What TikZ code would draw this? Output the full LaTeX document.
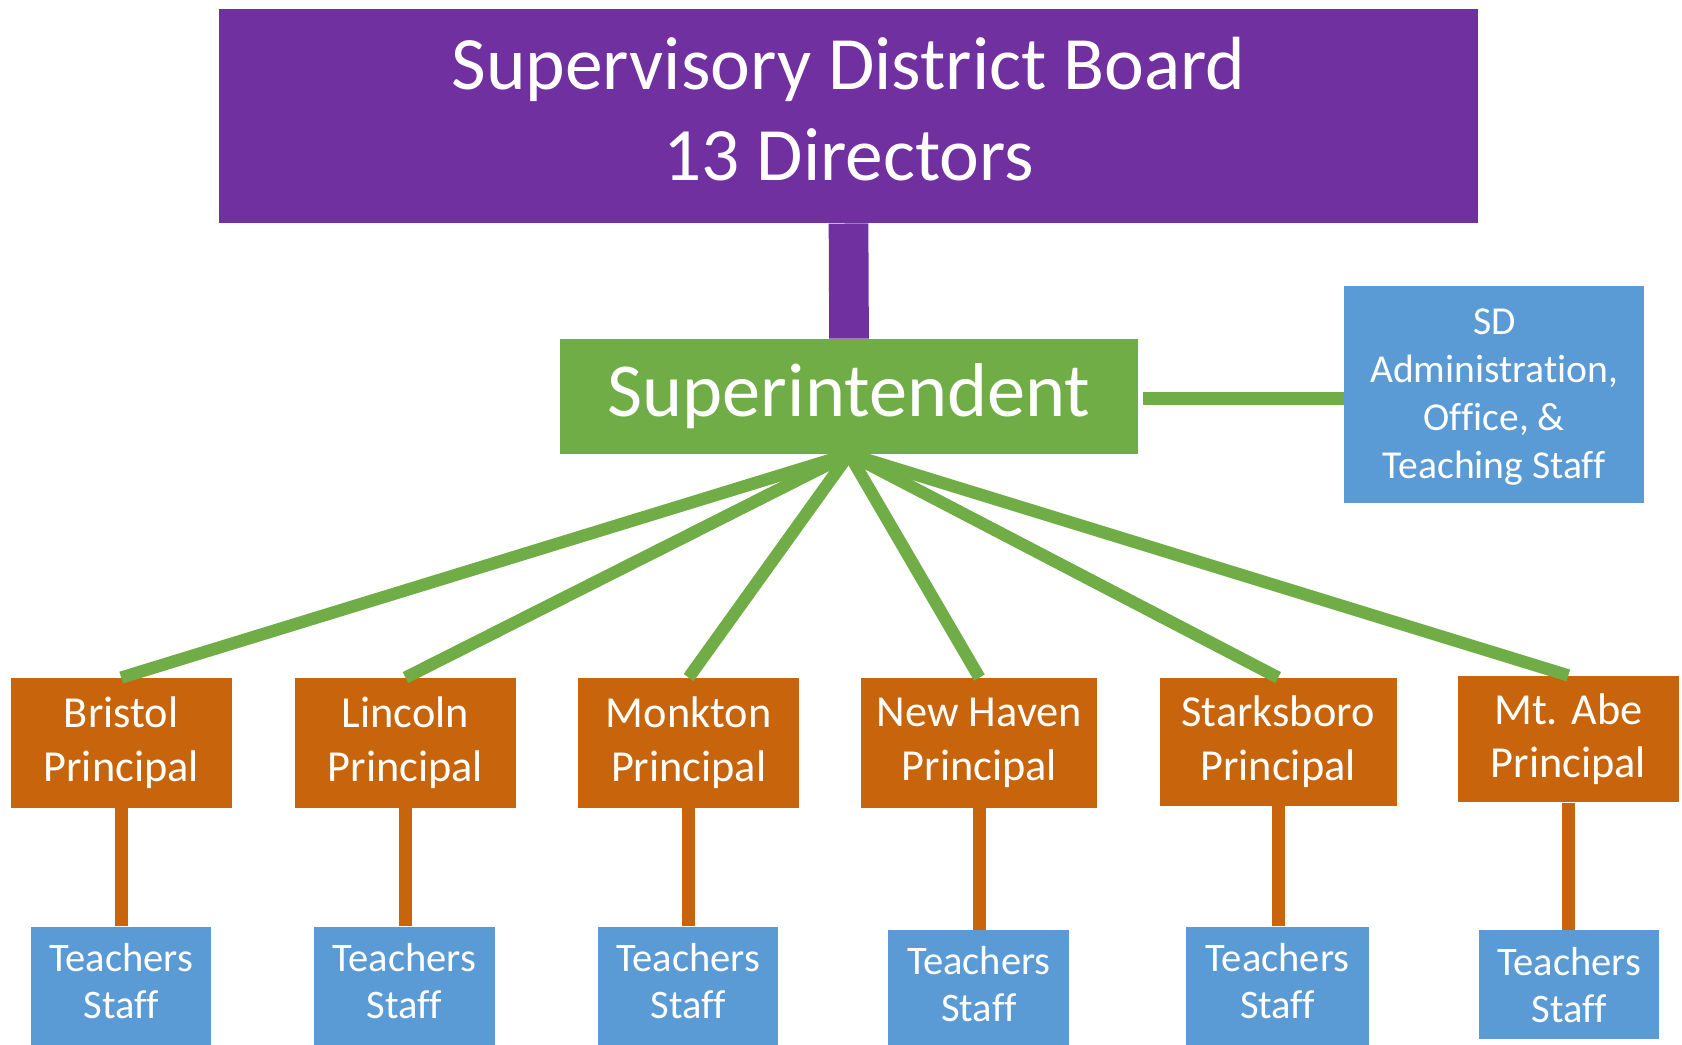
\documentclass[tikz,border=0pt]{standalone}
\usepackage{fontspec}
\setmainfont{Carlito}[Ligatures=NoCommon]
\definecolor{purp}{HTML}{7030A0}
\definecolor{grn}{HTML}{70AD47}
\definecolor{org}{RGB}{200,100,12}
\definecolor{blu}{HTML}{5B9BD5}
\newcommand{\stackup}[2]{\begin{tabular}{@{}c@{}}#1\\[#2]\end{tabular}}
\begin{document}
\begin{tikzpicture}[x=0.02cm,y=0.02cm,
  boxbase/.style={rectangle, inner sep=0pt, align=center, text=white},
  boardbox/.style={boxbase, fill=purp, minimum width=23.48cm, minimum height=4.0cm, font=\fontsize{40}{48}\selectfont},
  supbox/.style={boxbase, fill=grn, minimum width=10.78cm, minimum height=2.14cm, font=\fontsize{40.5}{46}\selectfont},
  sdbox/.style={boxbase, fill=blu, minimum width=5.6cm, minimum height=4.04cm, font=\fontsize{21}{25.5}\selectfont},
  prinbox/.style={boxbase, fill=org, minimum width=4.12cm, minimum height=2.42cm, font=\fontsize{23.5}{28.5}\selectfont},
  teachbox/.style={boxbase, fill=blu, minimum width=3.36cm, minimum height=2.32cm, font=\fontsize{21.5}{25}\selectfont},
  purpline/.style={draw=purp, line width=0.74cm},
  grnline/.style={draw=grn, line width=0.23cm},
  orgline/.style={draw=org, line width=0.24cm}]
\useasboundingbox (0,0) rectangle (1568,-974);
\fill[white] (0,0) rectangle (1568,-974);

\node[boardbox] (board) at (791,-108) {\stackup{Supervisory District Board\\13 Directors}{-1pt}};
\node[supbox] (sup) at (791.5,-369.5) {Superintendent};
\node[sdbox] (sd) at (1393,-368) {\stackup{SD\\Administration,\\Office, \&\\Teaching Staff}{-2pt}};

\node[prinbox] (p1) at (113,-692.5) {Bristol\\Principal};
\node[prinbox] (p2) at (378,-692.5) {Lincoln\\Principal};
\node[prinbox] (p3) at (642,-692.5) {Monkton\\Principal};
\node[prinbox, minimum width=4.4cm] (p4) at (913,-692.5) {New Haven\\Principal};
\node[prinbox, minimum width=4.42cm, minimum height=2.38cm] (p5) at (1191.5,-691.5) {Starksboro\\Principal};
\node[prinbox, minimum height=2.36cm] (p6) at (1462,-689) {Mt. Abe\\Principal};

\node[teachbox] (t1) at (113,-922) {\stackup{Teachers\\Staff}{3.5pt}};
\node[teachbox] (t2) at (377,-922) {\stackup{Teachers\\Staff}{3.5pt}};
\node[teachbox] (t3) at (641.5,-922) {\stackup{Teachers\\Staff}{3.5pt}};
\node[teachbox, minimum width=3.38cm] (t4) at (912.5,-925) {\stackup{Teachers\\Staff}{3.5pt}};
\node[teachbox, minimum width=3.4cm] (t5) at (1191,-922) {\stackup{Teachers\\Staff}{3.5pt}};
\node[teachbox, minimum height=2.04cm] (t6) at (1463,-918) {Teachers\\Staff};

\draw[purpline] (board.south) -- (sup.north);
\draw[grnline, shorten <=4*0.02cm] ([yshift=-2*0.02cm]sup.east) -- ([yshift=-2*0.02cm]sup.east -| sd.west);
\foreach \p in {p1,p2,p3,p4,p5,p6}{
  \draw[grnline] (sup.south) -- (\p.north);
}
\foreach \p/\t in {p1/t1,p2/t2,p3/t3,p4/t4,p5/t5,p6/t6}{
  \draw[orgline] (\p.south) -- (\p.south |- \t.north);
}
\end{tikzpicture}
\end{document}
